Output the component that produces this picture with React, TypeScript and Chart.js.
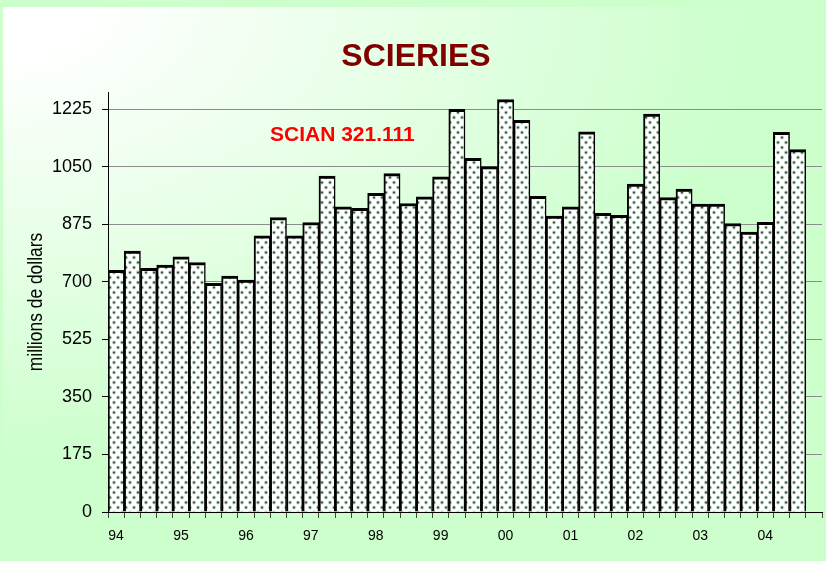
import React, { useEffect, useRef } from 'react';
import { Chart, registerables } from 'chart.js';

Chart.register(...registerables);

const TITLE = 'SCIERIES';
const SUBTITLE = 'SCIAN 321.111';
const Y_TITLE = 'millions de dollars';

// 44 quarterly slots, 1994 Q1 .. 2004 Q4 (labels only on Q1)
const categories = [
  '94', '', '', '',
  '95', '', '', '',
  '96', '', '', '',
  '97', '', '', '',
  '98', '', '', '',
  '99', '', '', '',
  '00', '', '', '',
  '01', '', '', '',
  '02', '', '', '',
  '03', '', '', '',
  '04', '', '', '',
];

// millions of dollars per quarter
const shipments = [
  735, 793, 741, 751,
  776, 758, 695, 717,
  705, 840, 895, 840,
  880, 1021, 928, 923,
  969, 1029, 938, 958,
  1019, 1224, 1075, 1050,
  1254, 1191, 960, 900,
  928, 1156, 908, 902,
  997, 1210, 956, 982,
  936, 936, 877, 851,
  881, 1154, 1102, null,
];

const yTickValues = [0, 175, 350, 525, 700, 875, 1050, 1225];
const Y_MAX = 1277;

const SANS = "'Liberation Sans', Arial, sans-serif";

function makePattern(): CanvasPattern | string {
  const tile = document.createElement('canvas');
  tile.width = 8;
  tile.height = 10;
  const c = tile.getContext('2d');
  if (!c) return '#ffffff';
  c.fillStyle = '#ffffff';
  c.fillRect(0, 0, 8, 10);
  const dots = [
    [2, 2.5],
    [6, 7.5],
  ];
  for (const [x, y] of dots) {
    c.fillStyle = 'rgba(60,110,70,0.35)';
    c.beginPath();
    c.arc(x, y, 1.9, 0, Math.PI * 2);
    c.fill();
    c.fillStyle = '#2b5a35';
    c.beginPath();
    c.arc(x, y, 1.1, 0, Math.PI * 2);
    c.fill();
  }
  const p = c.createPattern(tile, 'repeat');
  return p || '#ffffff';
}

const textPlugin = {
  id: 'customTexts',
  afterDraw(chart: any) {
    const ctx = chart.ctx as CanvasRenderingContext2D;
    ctx.save();
    ctx.textBaseline = 'alphabetic';
    ctx.fillStyle = '#800000';
    ctx.font = `bold 32px ${SANS}`;
    ctx.textAlign = 'center';
    ctx.fillText(TITLE, 416, 66);

    ctx.fillStyle = '#ff0000';
    ctx.font = `bold 21px ${SANS}`;
    ctx.textAlign = 'left';
    ctx.fillText(SUBTITLE, 270, 141);

    ctx.translate(42, 302);
    ctx.rotate(-Math.PI / 2);
    ctx.scale(0.83, 1);
    ctx.fillStyle = '#000000';
    ctx.font = `21px ${SANS}`;
    ctx.textAlign = 'center';
    ctx.fillText(Y_TITLE, 0, 0);
    ctx.restore();
  },
};

export default function App() {
  const ref = useRef<HTMLCanvasElement | null>(null);

  useEffect(() => {
    if (!ref.current) return;
    const pattern = makePattern();
    const chart = new Chart(ref.current, {
      type: 'bar',
      data: {
        labels: categories,
        datasets: [
          {
            data: shipments as any,
            backgroundColor: pattern as any,
            borderColor: '#000000',
            borderWidth: { top: 3, left: 2, right: 1.5, bottom: 0 } as any,
            borderSkipped: 'bottom',
            categoryPercentage: 1,
            barPercentage: 1,
          },
        ],
      },
      options: {
        animation: false,
        responsive: false,
        maintainAspectRatio: false,
        layout: { padding: { top: 92, right: 4, left: 0, bottom: 0 } },
        plugins: {
          legend: { display: false },
          tooltip: { enabled: false },
          title: { display: false },
        },
        scales: {
          x: {
            offset: true,
            grid: {
              offset: true,
              drawOnChartArea: false,
              drawTicks: true,
              tickLength: 6,
              tickColor: '#444444',
            },
            border: { display: true, color: '#000000', width: 1 },
            ticks: {
              autoSkip: false,
              maxRotation: 0,
              minRotation: 0,
              padding: 10,
              color: '#000000',
              font: { family: SANS, size: 14 },
            },
            afterFit: (s: any) => {
              s.height = 49;
            },
          },
          y: {
            min: 0,
            max: Y_MAX,
            ticks: {
              padding: 10,
              color: '#000000',
              font: { family: SANS, size: 18 },
              callback: (v: any) => String(v),
            },
            afterBuildTicks: (s: any) => {
              s.ticks = yTickValues.map((v) => ({ value: v }));
            },
            afterFit: (s: any) => {
              s.width = 108;
            },
            grid: {
              color: '#8c8c8c',
              lineWidth: 1,
              tickColor: '#000000',
              tickLength: 6,
              drawTicks: true,
            },
            border: { display: true, color: '#000000', width: 1 },
          },
        },
      },
      plugins: [textPlugin],
    });
    return () => chart.destroy();
  }, []);

  return (
    <div
      style={{
        position: 'absolute',
        left: 0,
        top: 0,
        width: 826,
        height: 561,
        background: '#ccffcc',
        overflow: 'hidden',
      }}
    >
      <div
        style={{
          position: 'absolute',
          left: 3,
          top: 7,
          right: 0,
          bottom: 0,
          background:
            'radial-gradient(ellipse 760px 460px at 0px 0px, #ffffff 10%, #ccffcc 100%)',
        }}
      />
      <canvas
        ref={ref}
        width={826}
        height={561}
        style={{ position: 'absolute', left: 0, top: 0, width: 826, height: 561, display: 'block' }}
      />
    </div>
  );
}
